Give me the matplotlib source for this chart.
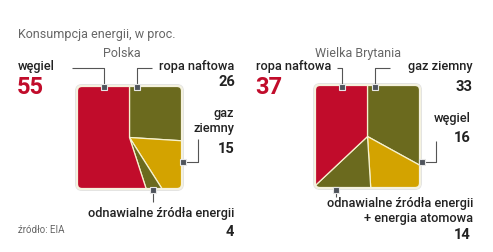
import matplotlib
matplotlib.use("Agg")
import matplotlib.pyplot as plt
from matplotlib.patches import FancyBboxPatch, BoxStyle

# ---------------- data ----------------
title = "Konsumpcja energii, w proc."
source = "źródło: EIA"

pl_name = "Polska"
pl_labels = ["ropa naftowa", "gaz\nziemny", "odnawialne źródła energii", "węgiel"]
pl_values = [26, 15, 4, 55]

uk_name = "Wielka Brytania"
uk_labels = ["gaz ziemny", "węgiel", "odnawialne źródła energii\n+ energia atomowa", "ropa naftowa"]
uk_values = [33, 16, 14, 37]

slice_colors = ["#6B6A1E", "#D3A300", "#6B6A1E", "#C10C2B"]

# ---------------- style ----------------
FONT = ["Roboto", "DejaVu Sans"]
plt.rcParams["font.family"] = FONT
W, H = 493, 253
fig = plt.figure(figsize=(W / 100, H / 100), dpi=100)
fig.patch.set_facecolor("white")

TXT = "#222222"
GRAY = "#666666"
LINE = "#555555"
RED = "#C10C2B"


def square_pie(left, top, w, h, values):
    m = 5
    ax = fig.add_axes([(left - m) / W, 1 - (top + h + m) / H, (w + 2 * m) / W, (h + 2 * m) / H])
    wedges, _ = ax.pie(values, startangle=90, counterclock=False, radius=400,
                       colors=slice_colors,
                       wedgeprops=dict(edgecolor="#F6F2CF", linewidth=0.9))
    ax.set_aspect("auto")
    ax.set_xlim(-(w / 2 + m), w / 2 + m)
    ax.set_ylim(-(h / 2 + m), h / 2 + m)
    ax.axis("off")
    r = 5
    shadow = FancyBboxPatch((-w / 2 + r, -h / 2 + r), w - 2 * r, h - 2 * r,
                            boxstyle=BoxStyle.Round(pad=r + 1.4),
                            facecolor="none", edgecolor="#e2e2e2", linewidth=0.8,
                            clip_on=False, zorder=4)
    ax.add_patch(shadow)
    clip = FancyBboxPatch((-w / 2 + r, -h / 2 + r), w - 2 * r, h - 2 * r,
                          boxstyle=BoxStyle.Round(pad=r),
                          facecolor="none", edgecolor="#F5F2DF", linewidth=1.6,
                          clip_on=False, zorder=5)
    ax.add_patch(clip)
    for wd in wedges:
        wd.set_clip_on(True)
        wd.set_clip_path(clip)
    return ax


square_pie(77, 87, 105, 103, pl_values)
square_pie(315, 86, 105, 103, uk_values)

# overlay axes in pixel coordinates
ax0 = fig.add_axes([0, 0, 1, 1])
ax0.set_xlim(0, W)
ax0.set_ylim(H, 0)
ax0.axis("off")
ax0.set_zorder(10)


def leader(xs, ys, mx, my):
    ax0.plot(xs, ys, color=LINE, lw=0.8, solid_capstyle="butt")
    ax0.plot([mx], [my], marker="s", ms=4.6, mfc="#4E535B", mec="#E6E6E6", mew=0.8)


lab = dict(fontsize=9.2, color=TXT, fontweight="medium")
num = dict(fontsize=10.5, color=TXT, fontweight="bold")
big = dict(fontsize=17, color=RED, fontweight="bold")

ax0.text(18, 34, title, fontsize=9, color=GRAY, va="center", ha="left")
ax0.text(18, 230, source, fontsize=7, color=GRAY, va="center", ha="left")

# ---- Polska ----
ax0.text(122, 53, pl_name, fontsize=9, color=GRAY, ha="center", va="center")
ax0.text(18, 70, pl_labels[3], ha="left", va="baseline", **lab)
ax0.text(17, 87, str(pl_values[3]), ha="left", va="center", **big)
leader([72, 104, 104], [69, 69, 88], 104, 88)

ax0.text(234, 70, pl_labels[0], ha="right", va="baseline", **lab)
ax0.text(235, 81.5, str(pl_values[0]), ha="right", va="center", **num)
leader([152, 137, 137], [69, 69, 88], 137, 88)

ax0.text(234, 132, pl_labels[1], ha="right", va="baseline", linespacing=1.2, **lab)
ax0.text(235, 149, str(pl_values[1]), ha="right", va="center", **num)
leader([183, 198, 198], [163, 163, 140], 183, 163)

ax0.text(234, 217, pl_labels[2], ha="right", va="baseline", **lab)
ax0.text(234, 232.5, str(pl_values[2]), ha="right", va="center", **num)
leader([153, 153], [191, 203], 153, 191)

# ---- Wielka Brytania ----
ax0.text(358, 53, uk_name, fontsize=9, color=GRAY, ha="center", va="center")
ax0.text(256, 70, uk_labels[3], ha="left", va="baseline", **lab)
ax0.text(255, 87.5, str(uk_values[3]), ha="left", va="center", **big)
leader([337, 342, 342], [69, 69, 88], 342, 88)

ax0.text(473, 70, uk_labels[0], ha="right", va="baseline", **lab)
ax0.text(473, 86.5, str(uk_values[0]), ha="right", va="center", **num)
leader([390, 375, 375], [69, 69, 88], 375, 88)

ax0.text(471, 122, uk_labels[1], ha="right", va="baseline", **lab)
ax0.text(471, 137.5, str(uk_values[1]), ha="right", va="center", **num)
leader([422, 436, 436], [163, 163, 142], 422, 163)

ax0.text(473, 222, uk_labels[2], ha="right", va="baseline", linespacing=1.15, **lab)
ax0.text(471, 235.5, str(uk_values[2]), ha="right", va="center", **num)
leader([336, 336], [191, 198], 336, 191)

fig.savefig("out.png", dpi=100, facecolor="white")
